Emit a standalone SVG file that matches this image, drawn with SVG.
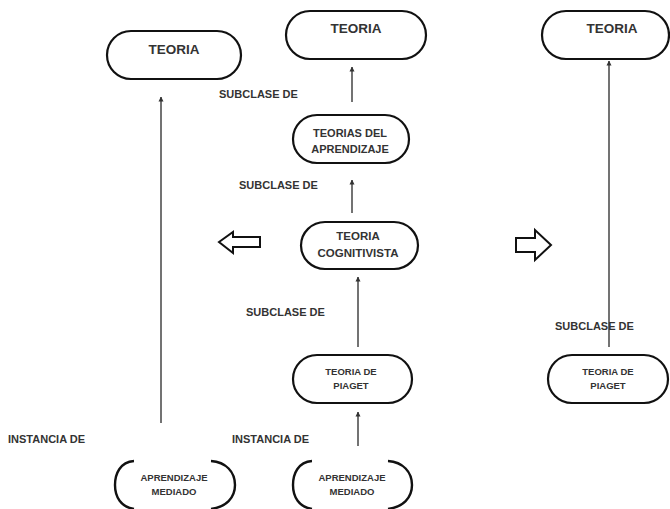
<svg xmlns="http://www.w3.org/2000/svg" width="670" height="509" viewBox="0 0 670 509">
<defs>
<marker id="ah" viewBox="0 0 10 10" refX="9" refY="5" markerWidth="5" markerHeight="6" orient="auto" markerUnits="userSpaceOnUse">
<path d="M0,0 L10,5 L0,10 z" fill="#333"/>
</marker>
<style>
.box{fill:#fff;stroke:#111;stroke-width:2.2}
.br{fill:none;stroke:#111;stroke-width:2.4}
.t{font-family:"Liberation Sans",Arial,sans-serif;font-weight:bold;fill:#333;text-anchor:middle}
.lbl{font-family:"Liberation Sans",Arial,sans-serif;font-weight:bold;fill:#333;font-size:11px}
.c{stroke:#444;stroke-width:1.5;fill:none}
.hol{fill:#fff;stroke:#111;stroke-width:2}
</style>
</defs>
<rect width="670" height="509" fill="#fff"/>

<g id="connectors">
<line class="c" x1="161" y1="423" x2="161" y2="97" marker-end="url(#ah)"/>
<line class="c" x1="352" y1="102" x2="352" y2="67" marker-end="url(#ah)"/>
<line class="c" x1="352" y1="213" x2="352" y2="180" marker-end="url(#ah)"/>
<line class="c" x1="358" y1="347" x2="358" y2="277" marker-end="url(#ah)"/>
<line class="c" x1="358" y1="446" x2="358" y2="412" marker-end="url(#ah)"/>
<line class="c" x1="609" y1="347" x2="609" y2="61" marker-end="url(#ah)"/>
</g>

<g id="labels">
<text class="lbl" x="219" y="98">SUBCLASE DE</text>
<text class="lbl" x="239" y="189">SUBCLASE DE</text>
<text class="lbl" x="246" y="316">SUBCLASE DE</text>
<text class="lbl" x="555" y="330">SUBCLASE DE</text>
<text class="lbl" x="8" y="443">INSTANCIA DE</text>
<text class="lbl" x="232" y="443">INSTANCIA DE</text>
</g>

<g id="arrow-left">
<path class="hol" d="M219,242 L233,232 L233,237 L260,237 L260,247 L233,247 L233,253 z"/>
</g>
<g id="arrow-right">
<path class="hol" d="M551,245 L535,230 L535,238 L516,238 L516,252 L535,252 L535,260 z"/>
</g>

<g id="teoria-left">
<rect class="box" x="107" y="31" width="134" height="48" rx="24" ry="24"/>
<text class="t" x="174" y="54" font-size="13.5">TEORIA</text>
</g>

<g id="teoria-center">
<rect class="box" x="286" y="11" width="140" height="48" rx="24" ry="24"/>
<text class="t" x="356" y="33" font-size="13.5">TEORIA</text>
</g>

<g id="teoria-right">
<rect class="box" x="542" y="11" width="127" height="48" rx="24" ry="24"/>
<text class="t" x="612" y="33" font-size="13.5">TEORIA</text>
</g>

<g id="teorias-aprendizaje">
<rect class="box" x="293" y="115" width="116" height="48" rx="24" ry="24"/>
<text class="t" x="350" y="137" font-size="11">TEORIAS DEL</text>
<text class="t" x="350" y="153" font-size="11">APRENDIZAJE</text>
</g>

<g id="teoria-cognitivista">
<rect class="box" x="301" y="222" width="117" height="47" rx="24" ry="24"/>
<text class="t" x="358" y="240" font-size="11.5">TEORIA</text>
<text class="t" x="358" y="257" font-size="11.5">COGNITIVISTA</text>
</g>

<g id="piaget-center">
<rect class="box" x="293" y="355" width="119" height="48" rx="24" ry="24"/>
<text class="t" x="351" y="375" font-size="9.5">TEORIA DE</text>
<text class="t" x="351" y="389" font-size="9.5">PIAGET</text>
</g>

<g id="piaget-right">
<rect class="box" x="548" y="355" width="120" height="48" rx="24" ry="24"/>
<text class="t" x="608" y="375" font-size="9.5">TEORIA DE</text>
<text class="t" x="608" y="389" font-size="9.5">PIAGET</text>
</g>

<g id="aprendizaje-left">
<path class="br" d="M134,461 C120,462 115,474 115,485 C115,497 121,507 134,509"/>
<path class="br" d="M211,461 C226,462 235,472 235,485 C235,498 226,507 211,509"/>
<text class="t" x="174" y="481" font-size="9.5">APRENDIZAJE</text>
<text class="t" x="174" y="495" font-size="9.5">MEDIADO</text>
</g>

<g id="aprendizaje-center">
<path class="br" d="M312,461 C298,462 293,474 293,485 C293,497 299,507 312,509"/>
<path class="br" d="M388,461 C403,462 412,472 412,485 C412,498 403,507 388,509"/>
<text class="t" x="352" y="481" font-size="9.5">APRENDIZAJE</text>
<text class="t" x="352" y="495" font-size="9.5">MEDIADO</text>
</g>
</svg>
